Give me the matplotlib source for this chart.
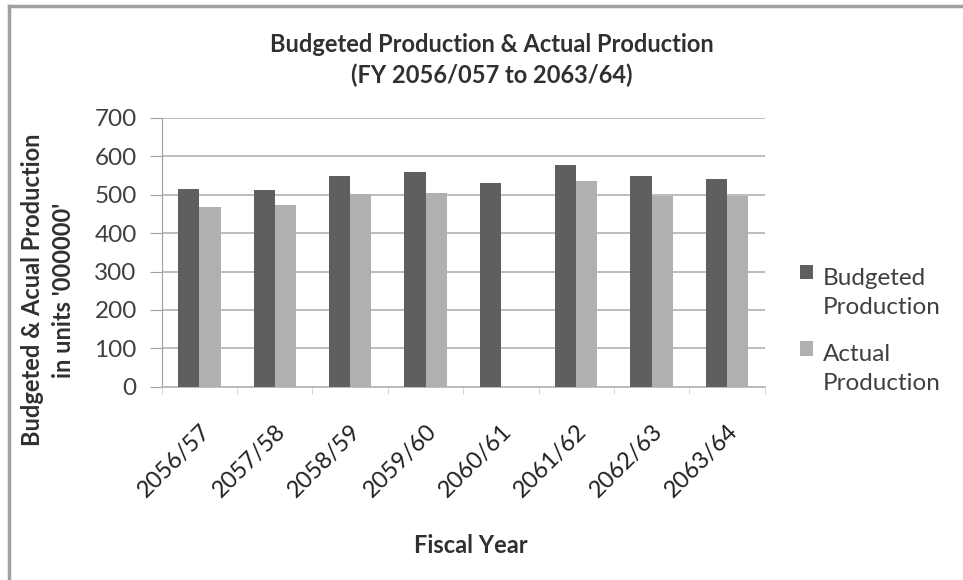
import numpy as np
import matplotlib.pyplot as plt
from matplotlib.lines import Line2D

plt.rcParams['font.family'] = ['Lato', 'DejaVu Sans']

years = ['2056/57', '2057/58', '2058/59', '2059/60', '2060/61', '2061/62', '2062/63', '2063/64']
budgeted = [515, 513, 549, 558, 530, 578, 548, 541]
actual = [467, 472, 501, 504, 0, 535, 496, 496]

fig = plt.figure(figsize=(9.63, 5.8), dpi=100)
ax = fig.add_axes([0.168, 0.333, 0.626, 0.464])

x = np.arange(len(years))
w = 0.28
ax.bar(x - w / 2, budgeted, w, color='#5f5f5f', label='Budgeted\nProduction', zorder=3)
ax.bar(x + w / 2, actual, w, color='#b0b0b0', label='Actual\nProduction', zorder=3)

ax.set_xlim(-0.5, len(years) - 0.5)
ax.set_ylim(0, 700)
ax.set_yticks(range(0, 701, 100))
ax.yaxis.grid(True, color='#b8b8b8', linewidth=1.3, zorder=0)
ax.set_axisbelow(True)
for s in ['top', 'right']:
    ax.spines[s].set_visible(False)
ax.spines['left'].set_color('#a0a0a0')
ax.spines['bottom'].set_color('#b8b8b8')
ax.spines['bottom'].set_linewidth(1.3)
ax.tick_params(axis='y', colors='#a0a0a0', length=9, labelcolor='#404040', labelsize=17.5, pad=9)

ax.set_xticks(x)
ax.set_xticklabels(years, rotation=45, ha='right', rotation_mode='anchor', fontsize=17, color='#202020')
ax.tick_params(axis='x', length=0, pad=24)
ax.set_xticks(np.arange(-0.5, len(years)), minor=True)
ax.tick_params(axis='x', which='minor', length=5, color='#d0d0d0')

fig.text(0.511, 0.923, 'Budgeted Production & Actual Production', ha='center', va='center',
         fontsize=17, fontweight='bold', color='#303030')
fig.text(0.511, 0.870, '(FY 2056/057 to 2063/64)', ha='center', va='center',
         fontsize=17, fontweight='bold', color='#303030')
fig.text(0.489, 0.06, 'Fiscal Year', ha='center', va='center', fontsize=17, fontweight='bold', color='#303030')
fig.text(0.05, 0.5, "Budgeted & Acual Production\nin units '000000'", ha='center', va='center',
         rotation=90, fontsize=17, fontweight='bold', color='#303030', linespacing=1.45)

leg = fig.legend(loc='center left', bbox_to_anchor=(0.808, 0.465), frameon=False, fontsize=17.5,
                 handlelength=0.55, handleheight=0.55, handletextpad=0.4, labelspacing=1.1,
                 labelcolor='#404040')
for t in leg.get_texts():
    t.set_va('center')
    t.set_linespacing(1.45)

# outer frame of the chart
fig.add_artist(Line2D([0.009, 0.009], [0.0, 0.99], color='#a0a0a0', linewidth=2.5))
fig.add_artist(Line2D([0.009, 1.0], [0.99, 0.99], color='#a0a0a0', linewidth=2.5))

fig.savefig('out.png', dpi=100)
